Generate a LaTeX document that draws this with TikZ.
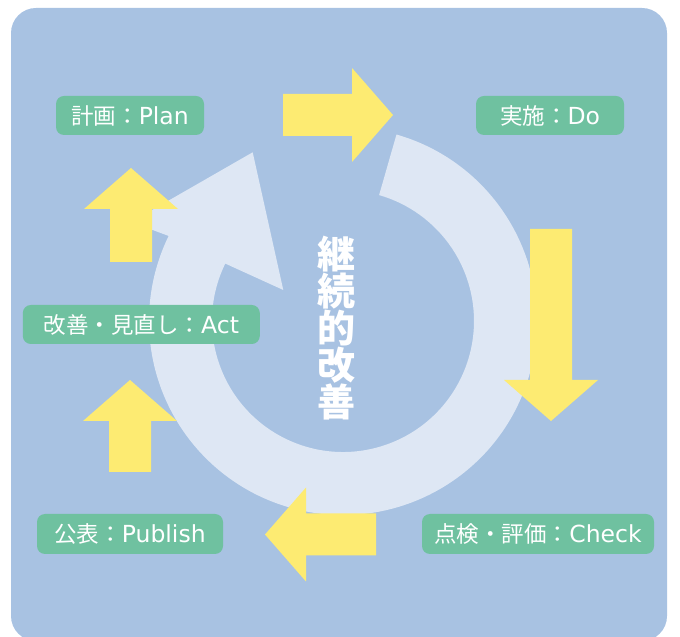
\documentclass[tikz,border=0pt]{standalone}
\usepackage{fontspec}
\setmainfont{Noto Sans CJK JP}
\newfontfamily\latinfont{DejaVu Sans}

\definecolor{panelblue}{HTML}{A8C2E2}
\definecolor{ringblue}{HTML}{DEE7F4}
\definecolor{arrowyellow}{HTML}{FDEB72}
\definecolor{stepgreen}{HTML}{6FC1A0}

\tikzset{
  phase/.style={fill=stepgreen, text=white, rounded corners=8pt,
                minimum height=39pt, inner sep=0pt,
                font=\fontsize{22.5}{22}\selectfont},
}

% japanese name, then the english one
\newcommand{\phasename}[2]{#1{\latinfont\fontsize{23.5}{22}\selectfont #2}}

% yellow block arrow: tail point, direction, shaft length
\newcommand{\fatarrow}[3]{%
  \fill[arrowyellow, shift={#1}, rotate=#2]
    (0,-21) -- (#3,-21) -- (#3,-47) -- (#3+41,0) -- (#3,47) -- (#3,21) -- (0,21) -- cycle;}

\begin{document}
\begin{tikzpicture}[x=1pt, y=1pt]
    \clip (0,0) rectangle (680,637);
    \fill[panelblue, rounded corners=25pt] (11,-4) rectangle (667,629);

    % the big circular arrow
    \coordinate (hub) at (343,316);
    \fill[ringblue] ([shift={(74:194)}]hub) arc[start angle=74, end angle=-206, radius=194]
        -- (131.3,415) -- (252.7,484.7) -- (283.3,347)
        -- ([shift={(-206:131)}]hub) arc[start angle=-206, end angle=74, radius=131] -- cycle;

    % arrows between the phases
    \fatarrow{(283,522)}{0}{69}
    \fatarrow{(551,408)}{-90}{151}
    \fatarrow{(376,102.5)}{180}{70}
    \fatarrow{(130,165)}{90}{51}
    \fatarrow{(131,375)}{90}{53}

    % phases
    \node[phase, minimum width=148pt] (plan)    at (130,521.5) {\phasename{計画：}{Plan}};
    \node[phase, minimum width=148pt] (do)      at (550,521.5) {\phasename{実施：}{Do}};
    \node[phase, minimum width=232pt, minimum height=40pt] (check)   at (538,103) {\phasename{点検・評価：}{Check}};
    \node[phase, minimum width=186pt, minimum height=40pt] (publish) at (130,103) {\phasename{公表：}{Publish}};
    \node[phase, minimum width=237pt] (act)     at (141.3,312.5) {\phasename{改善・見直し：}{Act}};

    \node[text=white, align=center, font=\fontsize{38}{37}\selectfont\bfseries]
        (kaizen) at (336.5,309) {継\\続\\的\\改\\善};
\end{tikzpicture}
\end{document}
